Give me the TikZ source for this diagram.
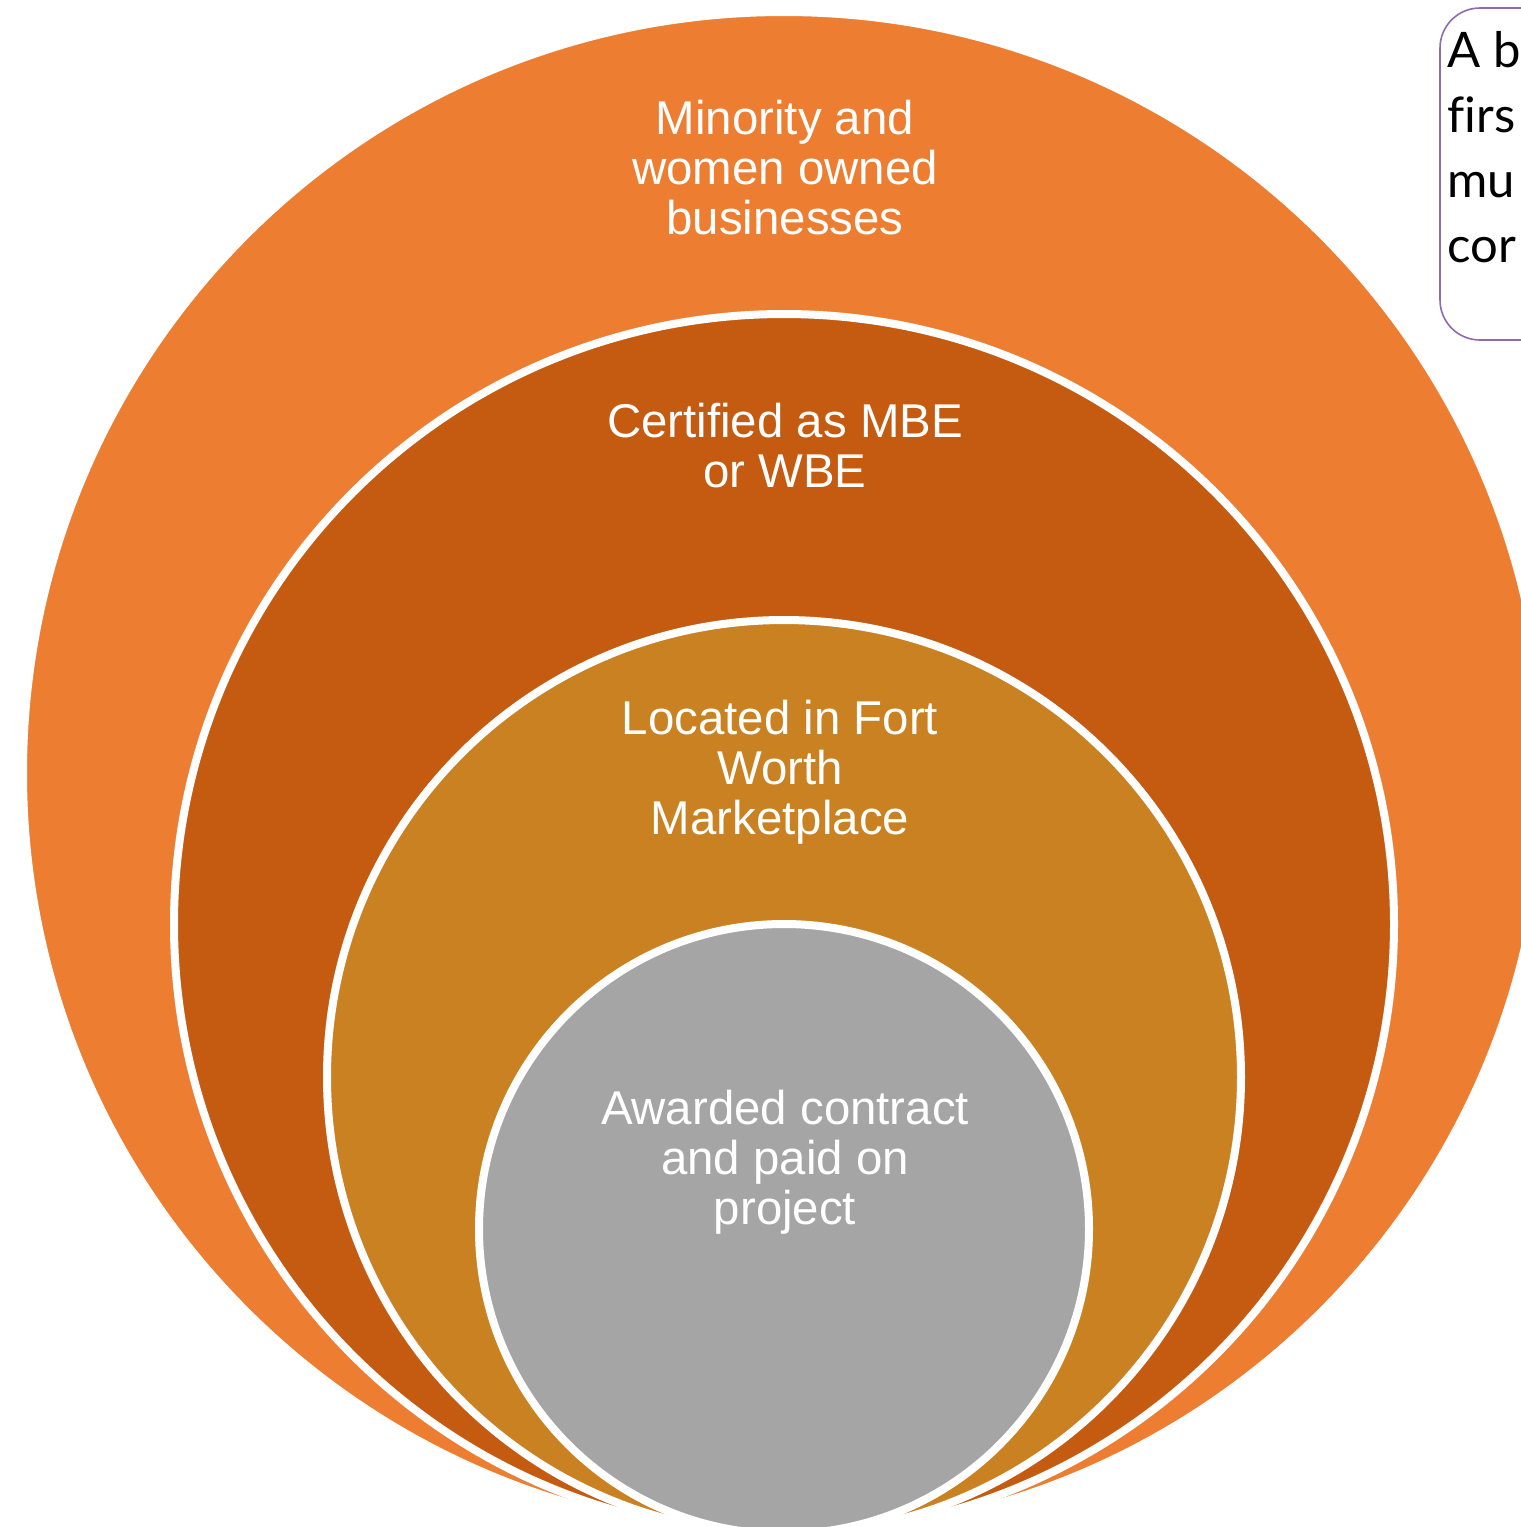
\documentclass[tikz,border=0pt]{standalone}
\usepackage{fontspec}
\setmainfont{Liberation Sans}
\newfontfamily\boxfont[Ligatures=NoCommon]{Lato}
\definecolor{cOne}{HTML}{ED7D31}
\definecolor{cTwo}{HTML}{C55A11}
\definecolor{cThree}{HTML}{C98121}
\definecolor{cFour}{HTML}{A5A5A5}
\definecolor{boxline}{HTML}{8E6BAF}
\tikzset{
  ring/.style={draw=white, line width=4pt},
  ringlabel/.style={text=white, align=center, inner sep=0pt,
    font=\fontsize{23.7}{25}\selectfont},
  notelabel/.style={text=black, align=left, inner sep=0pt, anchor=north west,
    font=\boxfont\fontsize{24.5}{32.5}\selectfont}
}
\begin{document}
\begin{tikzpicture}[x=0.5pt,y=-0.5pt]
\useasboundingbox (0,0) rectangle (1521,1527);
\clip (0,0) rectangle (1521,1527);
\fill[white] (0,0) rectangle (1521,1527);
% nested circles, tangent at the bottom
\path[ring, fill=cOne]   (784,773)  circle [radius=761];
\path[ring, fill=cTwo]   (784,924)  circle [radius=610];
\path[ring, fill=cThree] (784,1077) circle [radius=457];
\path[ring, fill=cFour]  (784,1229) circle [radius=305];
% labels
\node[ringlabel] (l1) at (785,168) {Minority and\\women owned\\businesses};
\node[ringlabel] (l2) at (785,446) {Certified as MBE\\or WBE};
\node[ringlabel] (l3) at (780,772) {Located in Fort\\Worth\\Marketplace};
\node[ringlabel] (l4) at (785,1162) {Awarded contract\\and paid on\\project};
% note box at the top right (cut by the page edge)
\draw[boxline, line width=0.8pt, rounded corners=20pt] (1440,8) rectangle (1700,340);
\node[notelabel] (note) at (1447,31) {A b\\firs\\mu\\cor};
\end{tikzpicture}
\end{document}
